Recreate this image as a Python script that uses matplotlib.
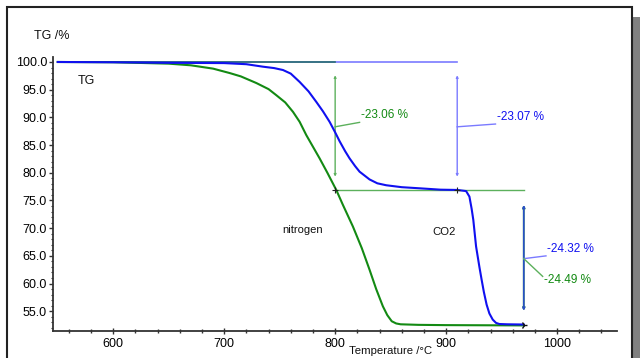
import matplotlib
matplotlib.use("Agg")
import matplotlib.pyplot as plt
from matplotlib.patches import Rectangle
from matplotlib.ticker import MultipleLocator, FormatStrFormatter

plt.rcParams['font.family'] = ['Liberation Sans', 'DejaVu Sans']

# ---- data ----
n2_temp = [550, 600, 620, 650, 670, 690, 705, 715, 729, 740, 747, 755, 762, 768, 774, 780,
           786, 793, 801, 807, 816, 824, 831, 837, 843, 847, 851, 855, 859, 875, 900, 940, 970]
n2_tg = [100.0, 99.95, 99.85, 99.7, 99.4, 98.8, 98.0, 97.4, 96.2, 95.1, 94.0, 92.7, 91.0, 89.2,
         86.8, 84.7, 82.6, 80.0, 76.9, 74.2, 70.3, 66.4, 62.5, 59.0, 55.9, 54.3, 53.2, 52.8,
         52.65, 52.55, 52.5, 52.47, 52.45]

co2_temp = [550, 600, 650, 700, 720, 735, 745, 753, 760, 768, 776, 783, 789, 795, 800, 804, 809,
            813, 818, 822, 831, 838, 846, 860, 876, 895, 910, 918, 921, 923, 924.5, 927, 930, 932,
            934, 936.5, 939, 942, 945, 948, 955, 970]
co2_tg = [100.0, 99.95, 99.85, 99.8, 99.6, 99.15, 98.9, 98.55, 97.9, 96.4, 94.7, 92.8, 91.1, 89.2,
          87.3, 85.7, 83.9, 82.6, 81.2, 80.2, 78.8, 78.1, 77.75, 77.4, 77.2, 76.95, 76.9, 76.7,
          75.7, 73.5, 71.5, 66.7, 63.0, 60.7, 58.5, 56.2, 54.6, 53.5, 52.9, 52.7, 52.65, 52.61]

# step evaluation (mass-loss steps)
step_n2_x = [550, 800]
step_co2_x = [550, 910]
step_level_x = [800, 970]
start_level = 100.0
mid_level = 76.94
labels_steps = ["-23.06 %", "-23.07 %", "-24.32 %", "-24.49 %"]

x_ticks = [600, 700, 800, 900, 1000]
y_ticks = [55, 60, 65, 70, 75, 80, 85, 90, 95, 100]

GREEN = '#138a13'
BLUE = '#1010f0'
LGREEN = '#5cb05c'
LBLUE = '#7a7aff'

fig = plt.figure(figsize=(6.4, 3.58), dpi=100)
fig.patch.set_facecolor('white')

# outer frame with shadow
fig.add_artist(Rectangle((633/640, -0.1), 8/640, 1.1 - 17/358, transform=fig.transFigure,
                         facecolor='#808080', edgecolor='none', zorder=-3))
fig.add_artist(Rectangle((7/640, -0.1), (632-7)/640, 1.1 - 7/358, transform=fig.transFigure,
                         facecolor='white', edgecolor='#222222', lw=1.5, zorder=-2))

ax = fig.add_axes([53.3/640, 1-331/358, (617-53.3)/640, (331-57)/358])
ax.set_zorder(1)
ax.set_facecolor('none')
ax.set_xlim(546, 1054)
ax.set_ylim(51.44, 100.9)

for s in ['top', 'right']:
    ax.spines[s].set_visible(False)
for s in ['left', 'bottom']:
    ax.spines[s].set_color('#333333')
    ax.spines[s].set_linewidth(1.3)

ax.set_xticks(x_ticks)
ax.set_yticks(y_ticks)
ax.xaxis.set_minor_locator(MultipleLocator(20))
ax.yaxis.set_minor_locator(MultipleLocator(1))
ax.yaxis.set_major_formatter(FormatStrFormatter('%.1f'))
ax.tick_params(axis='x', which='major', direction='inout', length=4, width=1, pad=3,
               labelsize=9, color='#333333')
ax.tick_params(axis='x', which='minor', direction='inout', length=3, width=1, color='#333333')
ax.tick_params(axis='y', which='major', direction='out', length=3, width=1, pad=1.5,
               labelsize=9, color='#333333')
ax.tick_params(axis='y', which='minor', direction='out', length=1.5, width=0.8, color='#333333')

# step baselines
ax.plot(step_co2_x, [start_level, start_level], color=LBLUE, lw=1.2, zorder=2)
ax.plot(step_n2_x, [start_level, start_level], color='#2a6f6f', lw=1.2, zorder=2.5)
ax.plot(step_level_x, [mid_level, mid_level], color=LGREEN, lw=1.0, zorder=2)

# curves
ax.plot(n2_temp, n2_tg, color=GREEN, lw=1.5, zorder=3)
ax.plot(co2_temp, co2_tg, color=BLUE, lw=1.5, zorder=3)

# step arrows
def varrow(x, y0, y1, color, lw=1.0):
    ax.annotate('', xy=(x, y1), xytext=(x, y0),
                arrowprops=dict(arrowstyle='<->', color=color, lw=lw,
                                mutation_scale=3, shrinkA=0, shrinkB=0), zorder=2)

varrow(800, 97.6, 79.3, LGREEN)
varrow(910, 97.6, 79.3, LBLUE)
varrow(970, 74.2, 55.1, LGREEN, 1.4)
varrow(970, 74.2, 55.1, '#2a4fc8', 1.2)

# leaders and labels
ax.plot([800, 822], [88.3, 89.1], color=LGREEN, lw=1.0)
ax.text(823, 90.4, labels_steps[0], color=GREEN, fontsize=8.5, va='center', ha='left')
ax.plot([910, 944.5], [88.3, 88.8], color=LBLUE, lw=1.0)
ax.text(945.7, 90.1, labels_steps[1], color=BLUE, fontsize=8.5, va='center', ha='left')
ax.plot([970, 990], [64.5, 65.0], color=LBLUE, lw=1.0)
ax.text(991, 66.2, labels_steps[2], color=BLUE, fontsize=8.5, va='center', ha='left')
ax.plot([970, 987], [64.5, 61.3], color=LGREEN, lw=1.0)
ax.text(988.5, 60.7, labels_steps[3], color=GREEN, fontsize=8.5, va='center', ha='left')

# small step markers
ax.plot([800, 910], [mid_level, mid_level], marker='+', ls='none', color='#222222', ms=4, mew=0.8, zorder=4)
ax.plot([970], [52.55], marker='4', ls='none', color='#111111', ms=5, mew=1, zorder=4)

# texts
ax.text(567.6, 96.57, 'TG', fontsize=9, va='center', ha='left', color='#111111')
ax.text(752.3, 69.7, 'nitrogen', fontsize=8, va='center', ha='left', color='#111111')
ax.text(888, 69.3, 'CO2', fontsize=8.2, va='center', ha='left', color='#111111')

fig.text(34/640, 1-36/358, 'TG /%', fontsize=9, va='center', ha='left', color='#111111')
fig.text(391/640, 1-345.5/358, 'Temperature /\u00b0C', fontsize=8.2, va='top', ha='center', color='#111111')

fig.savefig('out.png', dpi=100, facecolor='white')
